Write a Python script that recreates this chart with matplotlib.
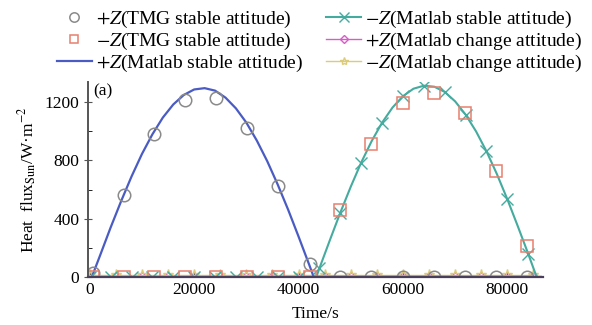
import matplotlib.pyplot as plt
import numpy as np

plt.rcParams['font.family'] = ['Liberation Serif', 'DejaVu Serif']
plt.rcParams['mathtext.fontset'] = 'stix'

# Matlab stable attitude curves (time in s, heat flux in W/m^2)
blue_x = [400, 2000, 4000, 6000, 8000, 10000, 12000, 14000, 16000, 18000, 20000,
          22000, 24000, 26000, 28000, 30000, 32000, 34000, 36000, 38000, 40000,
          42000, 42900, 44000, 48000, 52000, 56000, 60000, 64000, 68000, 72000,
          76000, 80000, 84000, 86400]
blue_y = [0, 150, 340, 520, 690, 845, 980, 1095, 1185, 1250, 1288,
          1297, 1280, 1232, 1158, 1060, 937, 795, 635, 462, 277,
          87, 0, 0, 0, 0, 0, 0, 0, 0, 0,
          0, 0, 0, 0]

teal_x = [0, 4000, 8000, 12000, 16000, 20000, 24000, 28000, 32000, 36000, 40000,
          43400, 44000, 46000, 48000, 50000, 52000, 54000, 56000, 58000, 60000,
          62000, 64000, 66000, 68000, 70000, 72000, 74000, 76000, 78000, 80000,
          82000, 84000, 85600]
teal_y = [0, 0, 0, 0, 0, 0, 0, 0, 0, 0, 0,
          0, 60, 253, 442, 620, 786, 933, 1060, 1164, 1242,
          1293, 1314, 1307, 1271, 1206, 1115, 1000, 863, 706, 533,
          348, 158, 0]

# TMG stable attitude points
tmg_x = [700, 6500, 12300, 18300, 24200, 30100, 36100, 42200, 48000, 53900,
         60100, 65900, 71900, 77800, 83800]
tmg_pos = [25, 565, 984, 1215, 1228, 1022, 623, 90, 0, 0, 0, 0, 0, 0, 0]
tmg_neg = [0, 0, 0, 0, 0, 0, 0, 0, 462, 910, 1193, 1267, 1124, 726, 209]

# Matlab change attitude (near zero)
chg_x = [0, 5000, 10000, 15000, 20000, 25000, 30000, 35000, 40000, 45000,
         50000, 55000, 60000, 65000, 70000, 75000, 80000, 85000]
chg_pos = [0] * 18
chg_neg = [14] * 18

fig = plt.figure(figsize=(5.92, 3.25), dpi=100)
ax = fig.add_axes([0.149, 0.148, 0.768, 0.600])

ax.plot(chg_x, chg_pos, color='#d85cc8', marker='D', ms=5, mfc='none', lw=1,
        label='$+Z$(Matlab change attitude)')
ax.plot(chg_x, chg_neg, color='#dccb78', marker='*', ms=8, mfc='none', lw=1,
        label='$-Z$(Matlab change attitude)')
ax.plot(blue_x, blue_y, color='#4a5cc4', lw=1.6, label='$+Z$(Matlab stable attitude)')
markidx = [i for i, v in enumerate(teal_x) if v % 4000 == 0]
ax.plot(teal_x, teal_y, color='#45ab9f', lw=1.5, marker='x', ms=9,
        mew=1.0, markevery=markidx, label='$-Z$(Matlab stable attitude)')
ax.plot(tmg_x, tmg_pos, ls='none', marker='o', ms=9, mfc='none', mec='#8a8a8a',
        mew=1.1, label='$+Z$(TMG stable attitude)')
ax.plot(tmg_x, tmg_neg, ls='none', marker='s', ms=8, mfc='none', mec='#e8806e',
        mew=1.1, label='$-Z$(TMG stable attitude)')

ax.set_xlim(-300, 86800)
ax.set_ylim(0, 1340)
ax.set_xticks([0, 20000, 40000, 60000, 80000])
ax.set_xticklabels(['0', '20000', '40000', '60000', '80000'])
ax.set_yticks([0, 400, 800, 1200])
ax.set_yticks([200, 600, 1000], minor=True)
ax.tick_params(axis='both', labelsize=12.5, direction='in', length=4, color='#555555')
ax.tick_params(axis='y', which='minor', direction='in', length=3)
ax.tick_params(axis='y', which='major', direction='inout', length=6)
ax.spines['top'].set_visible(False)
ax.spines['right'].set_visible(False)
ax.spines['left'].set_color('#555555')
ax.spines['bottom'].set_color('#4a3f5a')
ax.spines['bottom'].set_linewidth(1.6)
ax.spines['left'].set_linewidth(1.4)

ax.set_xlabel('Time/s', fontsize=12.5, labelpad=6)
ax.set_ylabel('Heat  flux$_{\\mathrm{Sun}}$/W·m$^{-2}$', fontsize=12.5, labelpad=4)
ax.text(0.012, 0.99, '(a)', transform=ax.transAxes, fontsize=12.5, va='top')

h, l = ax.get_legend_handles_labels()
order = [4, 5, 2, 3, 0, 1]
fig.legend([h[i] for i in order], [l[i] for i in order], ncol=2, loc='upper center',
           bbox_to_anchor=(0.54, 1.015), frameon=False, fontsize=14, markerscale=0.75,
           handlelength=1.8, handletextpad=0.2, columnspacing=1.2, labelspacing=0.05,
           borderaxespad=0.3)

fig.savefig('out.png', dpi=100)
